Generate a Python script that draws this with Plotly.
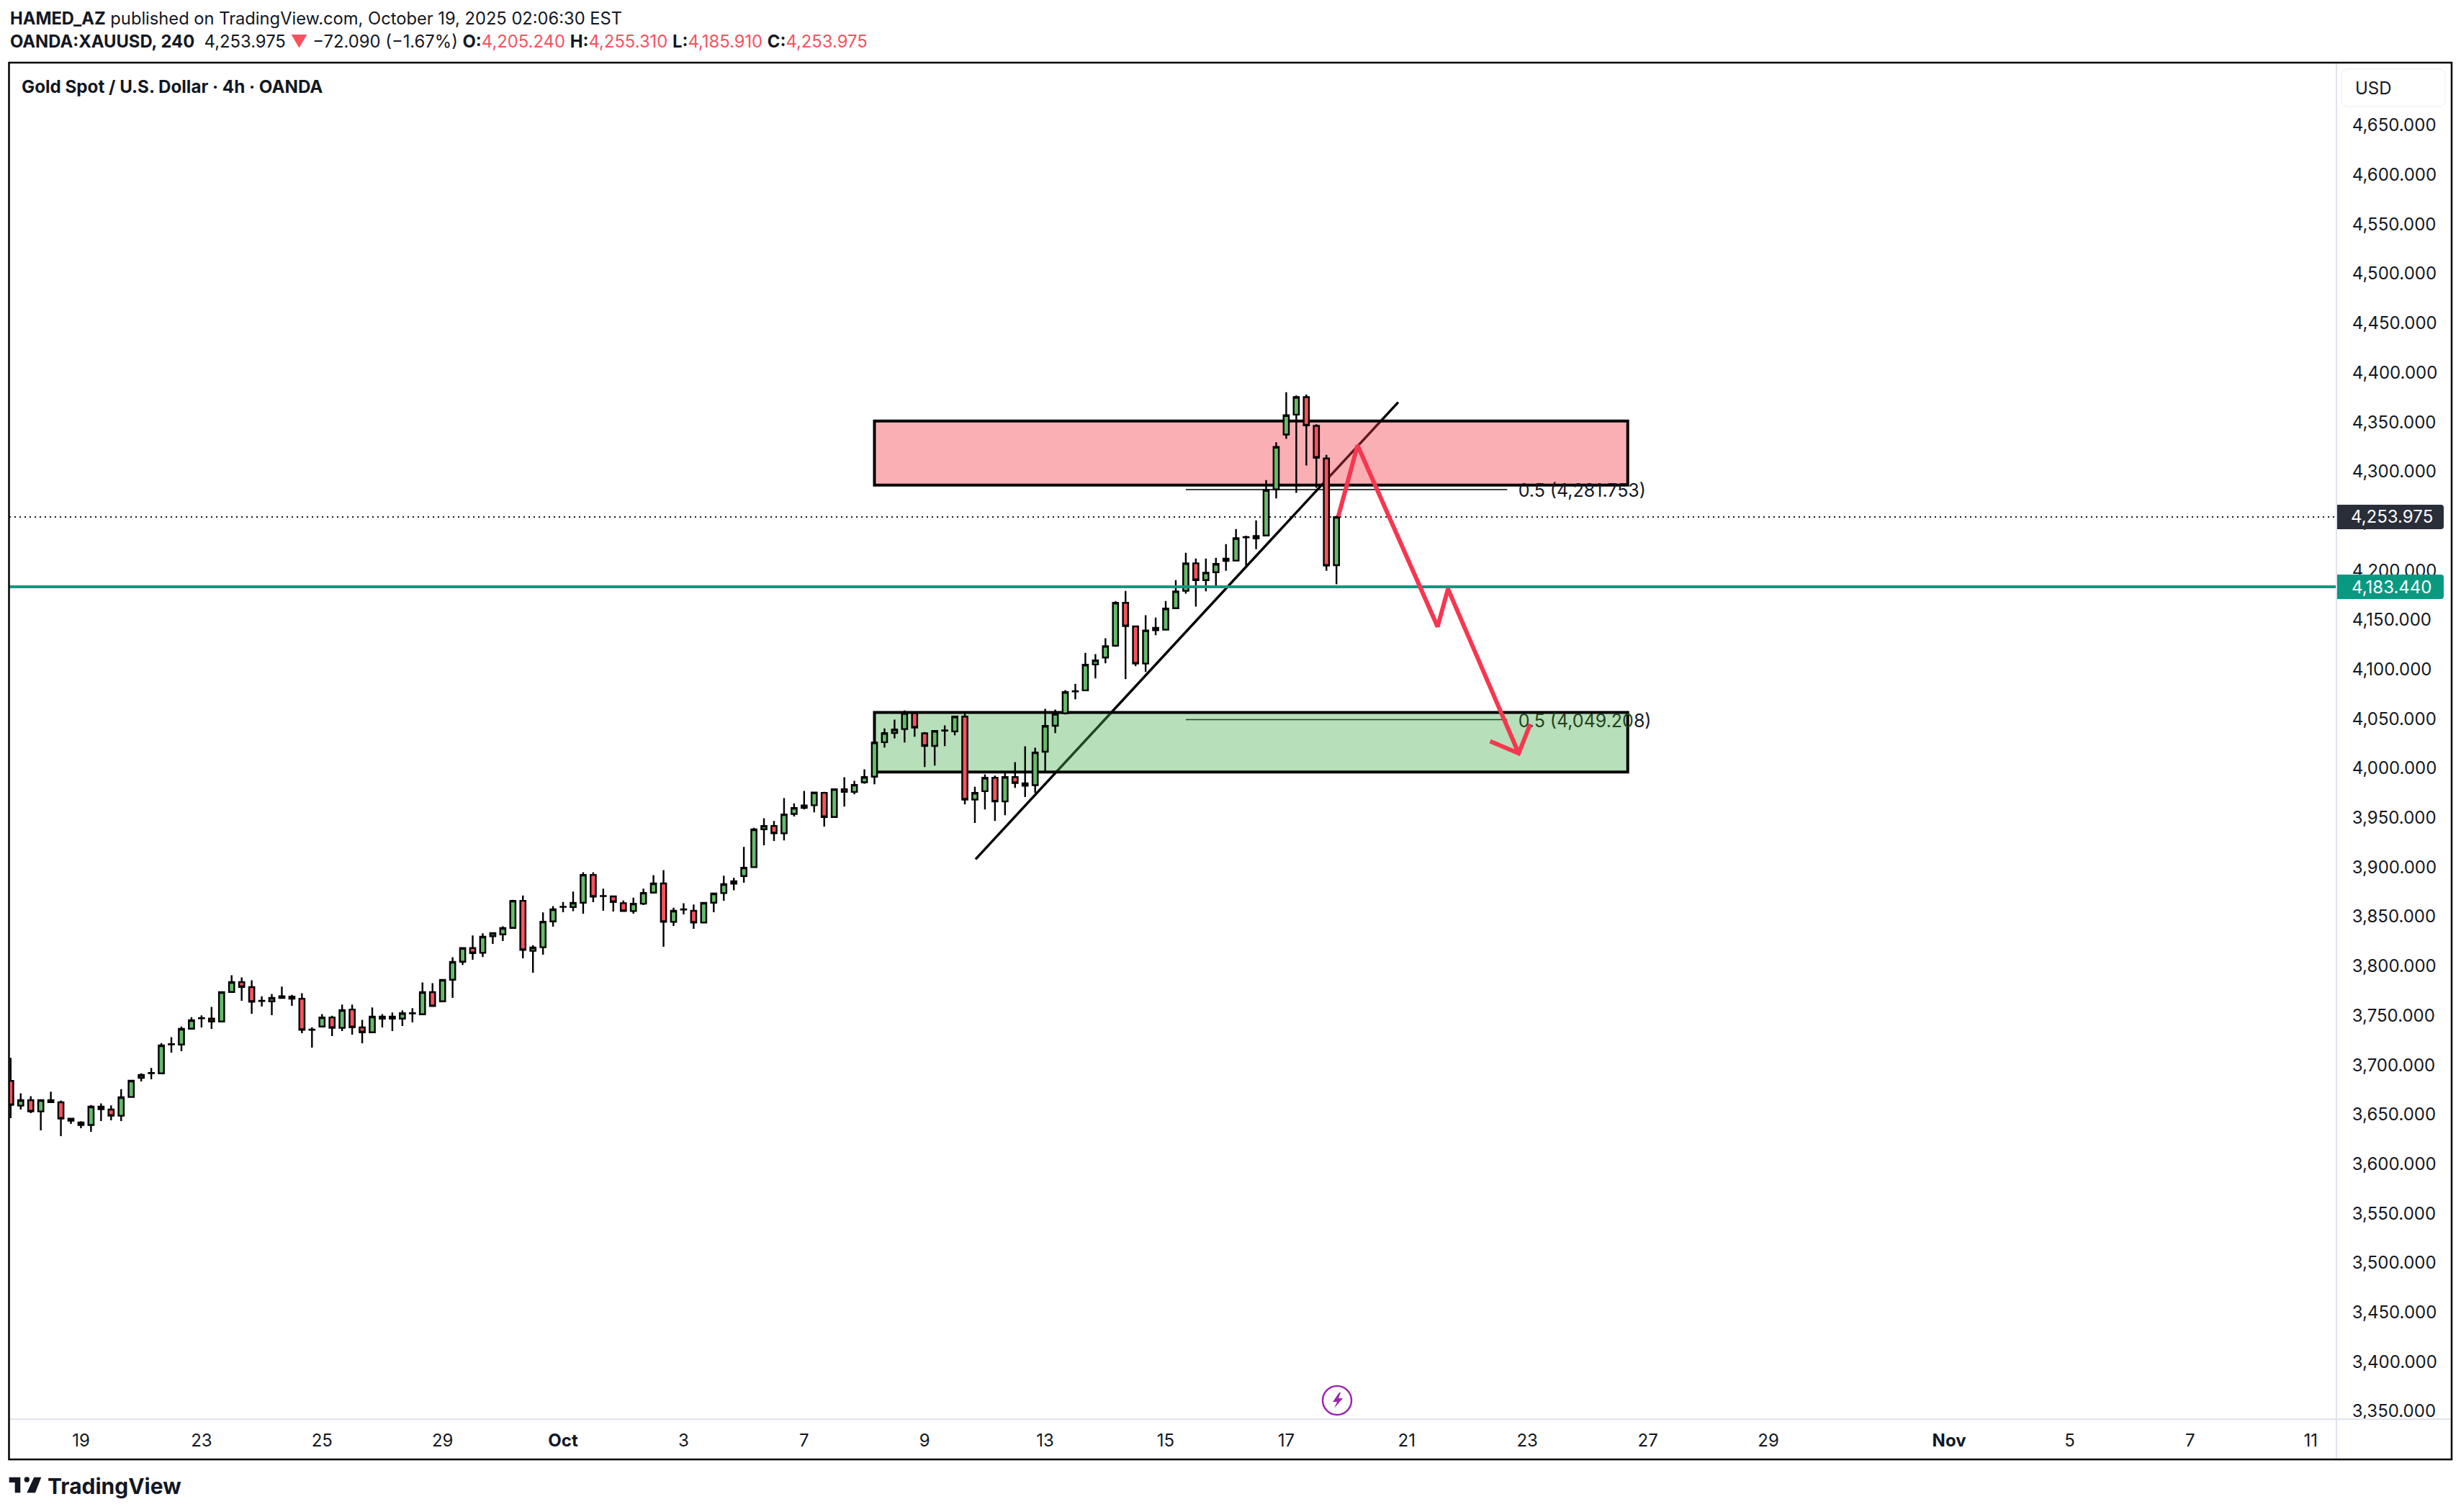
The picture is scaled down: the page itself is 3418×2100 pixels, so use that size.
import plotly.graph_objects as go

# 4h candles, index = bar number from the left edge
OPENS = [3683.9, 3658.9, 3664.5, 3653.1, 3664.5, 3662.3, 3645.8, 3641.9, 3639.3, 3657.9,
         3655.0, 3648.7, 3667.6, 3687.0, 3691.8, 3691.6, 3720.8, 3720.7, 3736.7, 3747.2,
         3746.9, 3744.0, 3773.8, 3783.8, 3778.7, 3764.7, 3764.4, 3769.5, 3769.2, 3767.0,
         3735.6, 3738.9, 3748.1, 3737.5, 3756.1, 3738.0, 3733.1, 3748.9, 3748.9, 3746.9,
         3752.1, 3751.3, 3773.6, 3764.4, 3786.2, 3804.4, 3818.2, 3813.4, 3830.2, 3832.1,
         3838.6, 3866.0, 3815.4, 3819.0, 3845.2, 3859.8, 3859.7, 3864.1, 3892.2, 3870.7,
         3870.4, 3863.6, 3855.6, 3863.1, 3874.3, 3883.5, 3844.7, 3857.1, 3855.9, 3844.0,
         3864.1, 3873.8, 3883.3, 3891.0, 3900.0, 3938.3, 3941.7, 3934.2, 3953.8, 3962.3,
         3962.6, 3975.2, 3950.7, 3978.8, 3976.1, 3985.8, 3991.4, 4026.3, 4035.7, 4039.6,
         4055.6, 4035.3, 4022.6, 4038.0, 4037.2, 4052.2, 3968.3, 3976.8, 3990.4, 3966.4,
         3991.1, 3984.8, 3982.9, 4016.8, 4043.0, 4055.6, 4077.7, 4078.7, 4104.9, 4111.9,
         4123.8, 4167.2, 4143.4, 4105.8, 4141.9, 4140.0, 4161.8, 4179.3, 4207.2, 4190.2,
         4198.2, 4211.8, 4209.9, 4233.4, 4232.4, 4235.3, 4281.9, 4337.4, 4357.5, 4375.2,
         4346.1, 4313.2, 4205.24]
HIGHS = [3707.2, 3671.3, 3668.4, 3665.2, 3673.0, 3664.0, 3646.5, 3643.1, 3659.6, 3661.1,
         3659.1, 3675.6, 3685.1, 3691.6, 3697.0, 3722.2, 3728.2, 3738.9, 3748.4, 3750.1,
         3758.8, 3774.3, 3790.8, 3788.6, 3785.7, 3769.5, 3771.9, 3779.2, 3770.9, 3772.6,
         3738.2, 3751.5, 3749.8, 3761.0, 3761.0, 3745.7, 3758.1, 3751.5, 3753.0, 3755.2,
         3757.4, 3783.5, 3782.8, 3786.9, 3809.0, 3819.2, 3830.9, 3833.1, 3833.8, 3840.3,
         3867.0, 3871.4, 3821.2, 3854.2, 3860.7, 3864.8, 3875.3, 3894.9, 3894.9, 3878.2,
         3871.4, 3866.3, 3869.2, 3878.2, 3892.0, 3897.1, 3859.0, 3863.6, 3862.2, 3864.8,
         3874.3, 3891.3, 3889.1, 3920.4, 3939.8, 3949.5, 3946.6, 3969.8, 3964.5, 3977.1,
         3976.1, 3976.1, 3979.5, 3990.9, 3987.3, 3998.9, 4026.0, 4040.3, 4049.1, 4058.5,
         4056.8, 4036.5, 4037.7, 4043.3, 4053.2, 4056.1, 3981.2, 3993.8, 3992.6, 3995.0,
         4006.2, 4022.2, 4020.7, 4060.0, 4059.3, 4078.9, 4085.4, 4116.7, 4115.3, 4131.3,
         4168.9, 4179.3, 4144.1, 4154.6, 4152.4, 4169.1, 4190.2, 4217.9, 4212.0, 4212.0,
         4212.8, 4226.6, 4241.9, 4235.1, 4250.6, 4291.3, 4329.6, 4380.1, 4376.9, 4377.7,
         4347.8, 4316.8, 4255.31]
LOWS = [3646.3, 3655.0, 3651.4, 3633.9, 3662.5, 3628.1, 3640.5, 3636.1, 3632.5, 3643.4,
        3644.1, 3643.4, 3667.6, 3683.4, 3685.6, 3691.6, 3712.5, 3713.9, 3736.7, 3738.0,
        3736.5, 3743.0, 3773.8, 3764.9, 3751.8, 3759.0, 3750.3, 3767.3, 3759.8, 3732.1,
        3717.6, 3738.9, 3729.2, 3734.3, 3730.7, 3722.0, 3732.1, 3738.0, 3734.3, 3739.4,
        3743.0, 3751.3, 3759.5, 3763.4, 3767.8, 3801.2, 3806.3, 3809.2, 3822.4, 3825.3,
        3837.9, 3807.8, 3793.3, 3811.5, 3839.8, 3854.4, 3855.6, 3853.0, 3864.6, 3855.9,
        3855.1, 3855.6, 3853.0, 3861.7, 3873.6, 3819.5, 3840.6, 3852.2, 3837.7, 3844.0,
        3854.4, 3866.0, 3876.7, 3884.2, 3900.0, 3922.1, 3926.4, 3927.1, 3951.2, 3958.4,
        3955.5, 3941.0, 3950.7, 3961.3, 3973.7, 3984.3, 3983.8, 4020.9, 4030.2, 4026.0,
        4031.9, 4001.3, 4002.8, 4022.4, 4033.3, 3963.5, 3944.6, 3958.4, 3946.7, 3952.6,
        3980.2, 3970.8, 3975.1, 3996.2, 4035.5, 4054.4, 4069.7, 4078.7, 4090.8, 4106.1,
        4122.8, 4090.1, 4103.1, 4097.3, 4134.4, 4140.0, 4161.8, 4176.6, 4163.5, 4178.8,
        4182.5, 4199.7, 4209.9, 4204.8, 4221.5, 4235.3, 4272.7, 4333.0, 4278.5, 4306.1,
        4283.6, 4199.7, 4185.91]
CLOSES = [3659.6, 3664.5, 3653.1, 3664.5, 3662.5, 3645.8, 3643.6, 3639.3, 3657.9, 3655.3,
          3648.7, 3667.4, 3684.1, 3689.9, 3692.0, 3719.8, 3721.0, 3736.5, 3745.2, 3747.4,
          3744.0, 3773.6, 3783.8, 3778.9, 3763.9, 3764.9, 3767.8, 3767.8, 3767.0, 3735.5,
          3735.8, 3748.1, 3737.5, 3755.4, 3738.2, 3733.1, 3748.9, 3746.9, 3746.9, 3752.3,
          3752.3, 3773.6, 3759.5, 3786.0, 3804.2, 3818.2, 3813.1, 3829.7, 3833.3, 3838.4,
          3866.0, 3816.3, 3818.8, 3844.9, 3857.3, 3860.0, 3863.9, 3892.2, 3870.2, 3870.9,
          3864.8, 3855.6, 3863.1, 3874.0, 3883.5, 3844.7, 3855.9, 3857.3, 3844.0, 3863.9,
          3873.3, 3882.8, 3885.7, 3899.5, 3938.1, 3941.7, 3934.2, 3953.3, 3959.9, 3959.9,
          3975.4, 3950.7, 3978.8, 3976.1, 3983.2, 3991.1, 4026.0, 4035.5, 4039.1, 4055.6,
          4041.1, 4022.6, 4037.7, 4038.2, 4052.2, 3968.3, 3975.1, 3990.4, 3966.4, 3991.1,
          3985.1, 3982.4, 4015.9, 4042.8, 4054.9, 4077.0, 4077.9, 4104.6, 4109.0, 4123.5,
          4167.2, 4143.7, 4105.8, 4139.3, 4139.5, 4161.4, 4178.8, 4207.2, 4190.2, 4197.7,
          4206.5, 4209.6, 4232.6, 4233.6, 4234.8, 4281.1, 4324.8, 4356.8, 4375.2, 4346.6,
          4313.9, 4204.8, 4253.975]

X_TICKS = [7, 19, 31, 43, 55, 67, 79, 91, 103, 115, 127, 139, 151, 163, 175, 193, 205, 217, 229]
X_LABELS = ['19', '23', '25', '29', '<b>Oct</b>', '3', '7', '9', '13', '15', '17', '21', '23',
            '27', '29', '<b>Nov</b>', '5', '7', '11']
Y_TICKS = list(range(3350, 4651, 50))

LAST_PRICE = 4253.975
LINE_PRICE = 4183.44
X_RANGE = [-0.13, 231.56]
Y_RANGE = [3342.0, 4712.6]

# drawings on the chart
RED_ZONE_BARS = [86, 161]
RED_ZONE_PRICES = [4286.3, 4351.0]
GREEN_ZONE_BARS = [86, 161]
GREEN_ZONE_PRICES = [3996.2, 4056.4]
FIB_BARS = [117, 149]
FIB_LABEL_BAR = 150.1
FIB_HIGH = 4281.753
FIB_LOW = 4049.208
FIB_LABEL_DROP = 3
TREND_BARS = [96.07, 138.15]
TREND_PRICES = [3908.0, 4370.0]
ARROW_BARS = [132.18, 134.1, 142.07, 143.1, 150.14, 147.3, 150.14, 151.3]
ARROW_PRICES = [4254.5, 4326.5, 4143.0, 4181.3, 4015.1, 4027.3, 4015.1, 4044.7]

TEXT = '#131722'
FONT = 'Inter'

# plot area in screenshot pixels, the browser adds 8px of body margin around the figure
PAGE_MARGIN = 8
LEFT, RIGHT, TOP, BOTTOM = 13, 3245, 88, 1971
WIDTH, HEIGHT = 3418 - 2 * PAGE_MARGIN, 2100 - 2 * PAGE_MARGIN


def px(x):
    return (x - LEFT) / (RIGHT - LEFT)


def py(y):
    return 1 - (y - TOP) / (BOTTOM - TOP)


def poly(points):
    return 'M ' + ' L '.join(f'{px(x):.5f},{py(y):.5f}' for x, y in points) + ' Z'


def page_text(x, y, text, size, anchor='left', color=TEXT):
    return dict(text=text, x=px(x), y=py(y), xref='paper', yref='paper', showarrow=False,
                xanchor=anchor, yanchor='middle', align=anchor,
                font=dict(family=FONT, size=size, color=color))


fig = go.Figure()

fig.add_trace(go.Candlestick(
    x=list(range(len(OPENS))), open=OPENS, high=HIGHS, low=LOWS, close=CLOSES,
    increasing=dict(fillcolor='#66BB6A', line=dict(color='black', width=2.4)),
    decreasing=dict(fillcolor='#F7525F', line=dict(color='black', width=2.4)),
    whiskerwidth=0, showlegend=False,
))

fig.add_trace(go.Scatter(
    x=X_RANGE, y=[LINE_PRICE, LINE_PRICE], mode='lines',
    line=dict(color='#089981', width=4), showlegend=False,
))
fig.add_trace(go.Scatter(
    x=[FIB_LABEL_BAR, FIB_LABEL_BAR], y=[FIB_HIGH - FIB_LABEL_DROP, FIB_LOW - FIB_LABEL_DROP], mode='text',
    text=['0.5 (4,281.753)', '<span style="color:#21431F">0.5 (4,049.20</span>8)'],
    textposition='middle right', textfont=dict(family=FONT, size=25, color=TEXT), showlegend=False,
))
fig.add_trace(go.Scatter(
    x=ARROW_BARS, y=ARROW_PRICES, mode='lines',
    line=dict(color='#F7374F', width=6), showlegend=False,
))

shapes = [
    # trend line and fib lines go first so that the zones tint them
    dict(type='line', layer='below', x0=TREND_BARS[0], x1=TREND_BARS[1], y0=TREND_PRICES[0],
         y1=TREND_PRICES[1], line=dict(color='black', width=3.5)),
    dict(type='line', layer='below', x0=FIB_BARS[0], x1=FIB_BARS[1], y0=FIB_HIGH, y1=FIB_HIGH,
         line=dict(color='black', width=1.5)),
    dict(type='line', layer='below', x0=FIB_BARS[0], x1=FIB_BARS[1], y0=FIB_LOW, y1=FIB_LOW,
         line=dict(color='black', width=1.5)),
    dict(type='rect', layer='below', x0=RED_ZONE_BARS[0], x1=RED_ZONE_BARS[1], y0=RED_ZONE_PRICES[0],
         y1=RED_ZONE_PRICES[1], fillcolor='rgba(242,54,69,0.4)', line=dict(color='black', width=4)),
    dict(type='rect', layer='below', x0=GREEN_ZONE_BARS[0], x1=GREEN_ZONE_BARS[1], y0=GREEN_ZONE_PRICES[0],
         y1=GREEN_ZONE_PRICES[1], fillcolor='rgba(76,175,80,0.4)', line=dict(color='black', width=4)),
    dict(type='line', layer='below', x0=X_RANGE[0], x1=X_RANGE[1], y0=LAST_PRICE, y1=LAST_PRICE,
         line=dict(color=TEXT, width=2, dash='2px,5px')),
    # frame and axis separators
    dict(type='line', xref='paper', yref='paper', x0=px(RIGHT), x1=px(RIGHT), y0=py(87), y1=py(2027),
         line=dict(color='#E0E3EB', width=2)),
    dict(type='line', xref='paper', yref='paper', x0=px(12), x1=px(3405), y0=py(BOTTOM), y1=py(BOTTOM),
         line=dict(color='#E0E3EB', width=2)),
    dict(type='rect', xref='paper', yref='paper', x0=px(12.5), x1=px(3405), y0=py(87), y1=py(2027),
         line=dict(color='black', width=2.5)),
    # USD box
    dict(type='path', xref='paper', yref='paper', line=dict(color='#F0F3FA', width=1.5),
         path=poly([(3258, 96), (3390, 96), (3396, 102), (3396, 142), (3390, 148), (3258, 148), (3252, 142), (3252, 102)])),
    # last price and line price tags
    dict(type='path', layer='above', xref='paper', xsizemode='pixel', xanchor=1, yref='y', ysizemode='pixel',
         yanchor=LAST_PRICE, fillcolor='#2A2E39', line=dict(width=0),
         path='M 1,-17 H 145 Q 149,-17 149,-13 V 13 Q 149,17 145,17 H 1 Z'),
    dict(type='path', layer='above', xref='paper', xsizemode='pixel', xanchor=1, yref='y', ysizemode='pixel',
         yanchor=LINE_PRICE, fillcolor='#089981', line=dict(width=0),
         path='M 1,-17 H 145 Q 149,-17 149,-13 V 13 Q 149,17 145,17 H 1 Z'),
    # event icon
    dict(type='circle', xref='paper', yref='paper', x0=px(1837), x1=px(1877), y0=py(1925), y1=py(1965),
         line=dict(color='#9C27B0', width=2.5)),
    dict(type='path', xref='paper', yref='paper', fillcolor='#9C27B0', line=dict(width=0),
         path=poly([(1860, 1934), (1851, 1947), (1857, 1947), (1853, 1956), (1865, 1942), (1859, 1942), (1862, 1934)])),
    # TradingView logo
    dict(type='path', xref='paper', yref='paper', fillcolor=TEXT, line=dict(width=0),
         path=poly([(12.7, 2051.7), (28.3, 2051.7), (28.3, 2073.3), (20.7, 2073.3), (20.7, 2059), (12.7, 2059)])),
    dict(type='circle', xref='paper', yref='paper', fillcolor=TEXT, line=dict(width=0),
         x0=px(33.6), x1=px(41), y0=py(2051.3), y1=py(2058.7)),
    dict(type='path', xref='paper', yref='paper', fillcolor=TEXT, line=dict(width=0),
         path=poly([(47.3, 2051.7), (57.3, 2051.7), (49, 2073.3), (37.3, 2073.3)])),
]

RED = '#F7525F'
annotations = [
    page_text(12, 25, '<b>HAMED_AZ</b> published on TradingView.com, October 19, 2025 02:06:30 EST', 23.7),
    page_text(12, 57, '<b>OANDA:XAUUSD, 240</b>  4,253.975 '
              f'<span style="color:{RED}">▼</span> −72.090 (−1.67%) '
              f'<b>O:</b><span style="color:{RED}">4,205.240</span> '
              f'<b>H:</b><span style="color:{RED}">4,255.310</span> '
              f'<b>L:</b><span style="color:{RED}">4,185.910</span> '
              f'<b>C:</b><span style="color:{RED}">4,253.975</span>', 23.8),
    page_text(28, 120, '<b>Gold Spot / U.S. Dollar · 4h · OANDA</b>', 24.2),
    page_text(3296, 122, 'USD', 24, anchor='center'),
    page_text(3322, 717.5, '4,253.975', 24, anchor='center', color='white'),
    page_text(3322, 815, '4,183.440', 24, anchor='center', color='white'),
    page_text(64, 2064, '<b>TradingView</b>', 30),
]

fig.update_layout(
    width=WIDTH, height=HEIGHT, autosize=False,
    margin=dict(l=LEFT - PAGE_MARGIN, r=WIDTH - (RIGHT - PAGE_MARGIN), t=TOP - PAGE_MARGIN,
                b=HEIGHT - (BOTTOM - PAGE_MARGIN), pad=0),
    paper_bgcolor='white', plot_bgcolor='white', showlegend=False, boxgap=0.477, boxgroupgap=0,
    font=dict(family=FONT, size=24, color=TEXT),
    xaxis=dict(range=X_RANGE, rangeslider=dict(visible=False), showgrid=False, zeroline=False,
               tickmode='array', tickvals=X_TICKS, ticktext=X_LABELS, ticks='outside', ticklen=8,
               tickcolor='rgba(0,0,0,0)', tickangle=0),
    yaxis=dict(range=Y_RANGE, side='right', showgrid=False, zeroline=False, tickmode='array',
               tickvals=Y_TICKS, tickformat=',.3f', ticks='outside', ticklen=16,
               tickcolor='rgba(0,0,0,0)'),
    shapes=shapes, annotations=annotations,
)

fig.write_html("out.html")
